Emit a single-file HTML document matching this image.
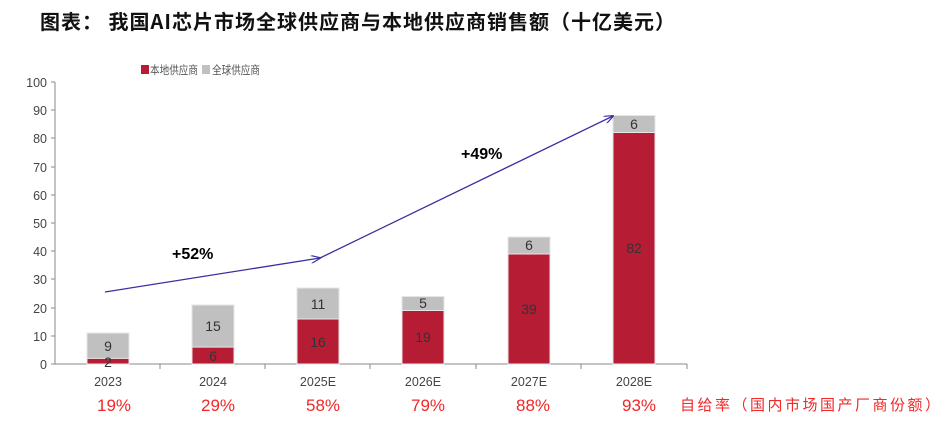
<!DOCTYPE html>
<html><head><meta charset="utf-8"><style>
body{margin:0;background:#fff;}
svg{display:block;font-family:"Liberation Sans","Noto Sans CJK SC",sans-serif;}
</style></head><body>
<svg width="952" height="422" viewBox="0 0 952 422" xmlns="http://www.w3.org/2000/svg">
<defs><marker id="ar" markerWidth="10" markerHeight="8" refX="9" refY="4" orient="auto" markerUnits="userSpaceOnUse"><path d="M0,0 L10,4 L0,8" fill="none" stroke="#3a2fa0" stroke-width="1.2"/></marker></defs>
<text x="40" y="29" font-size="20" font-weight="bold" fill="#111" font-family="'Noto Sans CJK SC',sans-serif" letter-spacing="1">图表： 我国AI芯片市场全球供应商与本地供应商销售额（十亿美元）</text>
<rect x="141" y="65" width="8" height="9" fill="#b71c35"/>
<text x="150" y="74" font-size="11.5" fill="#555" textLength="48" lengthAdjust="spacingAndGlyphs">本地供应商</text>
<rect x="202" y="65" width="8" height="9" fill="#c0c0c0"/>
<text x="212" y="74" font-size="11.5" fill="#555" textLength="48" lengthAdjust="spacingAndGlyphs">全球供应商</text>
<g stroke="#888" stroke-width="1">
<line x1="55" y1="82" x2="55" y2="364"/>
<line x1="51" y1="364" x2="687" y2="364"/>
<line x1="160" y1="364" x2="160" y2="369"/><line x1="265" y1="364" x2="265" y2="369"/><line x1="370" y1="364" x2="370" y2="369"/><line x1="476" y1="364" x2="476" y2="369"/><line x1="581" y1="364" x2="581" y2="369"/><line x1="687" y1="364" x2="687" y2="369"/>
<line x1="51" y1="82" x2="55" y2="82"/><line x1="51" y1="110" x2="55" y2="110"/><line x1="51" y1="138" x2="55" y2="138"/><line x1="51" y1="167" x2="55" y2="167"/><line x1="51" y1="195" x2="55" y2="195"/><line x1="51" y1="223" x2="55" y2="223"/><line x1="51" y1="251" x2="55" y2="251"/><line x1="51" y1="279" x2="55" y2="279"/><line x1="51" y1="308" x2="55" y2="308"/><line x1="51" y1="336" x2="55" y2="336"/>
</g>
<g font-size="12.5" fill="#444" text-anchor="end">
<text x="47" y="87">100</text><text x="47" y="115">90</text><text x="47" y="143">80</text><text x="47" y="172">70</text><text x="47" y="200">60</text><text x="47" y="228">50</text><text x="47" y="256">40</text><text x="47" y="284">30</text><text x="47" y="313">20</text><text x="47" y="341">10</text><text x="47" y="369">0</text>
</g>
<g stroke="#e6e6e6" stroke-width="1">
<rect x="87" y="333" width="42" height="25.4" fill="#c0c0c0"/><rect x="87" y="358.4" width="42" height="5.6" fill="#b71c35"/>
<rect x="192" y="305" width="42" height="42.3" fill="#c0c0c0"/><rect x="192" y="347.1" width="42" height="16.9" fill="#b71c35"/>
<rect x="297" y="288" width="42" height="31" fill="#c0c0c0"/><rect x="297" y="319" width="42" height="45" fill="#b71c35"/>
<rect x="402" y="296.5" width="42" height="14" fill="#c0c0c0"/><rect x="402" y="310.5" width="42" height="53.5" fill="#b71c35"/>
<rect x="508" y="237" width="42" height="17" fill="#c0c0c0"/><rect x="508" y="254" width="42" height="110" fill="#b71c35"/>
<rect x="613" y="115.5" width="42" height="17" fill="#c0c0c0"/><rect x="613" y="132.5" width="42" height="231.5" fill="#b71c35"/>
</g>
<g font-size="14" fill="#333" text-anchor="middle">
<text x="108" y="351">9</text><text x="108" y="367">2</text>
<text x="213" y="331">15</text><text x="213" y="361">6</text>
<text x="318" y="309">11</text><text x="318" y="347">16</text>
<text x="423" y="308">5</text><text x="423" y="342">19</text>
<text x="529" y="250">6</text><text x="529" y="314">39</text>
<text x="634" y="129">6</text><text x="634" y="253">82</text>
</g>
<g font-size="12.5" fill="#444" text-anchor="middle">
<text x="108" y="386">2023</text><text x="213" y="386">2024</text><text x="318" y="386">2025E</text><text x="423" y="386">2026E</text><text x="529" y="386">2027E</text><text x="634" y="386">2028E</text>
</g>
<g font-size="17" fill="#f02828" text-anchor="middle">
<text x="114" y="411">19%</text><text x="218" y="411">29%</text><text x="323" y="411">58%</text><text x="428" y="411">79%</text><text x="533" y="411">88%</text><text x="639" y="411">93%</text>
</g>
<text x="680" y="410" font-size="15" fill="#f02828" font-family="'Noto Sans CJK SC',sans-serif" textLength="260" lengthAdjust="spacing">自给率（国内市场国产厂商份额）</text>
<line x1="105" y1="292" x2="320" y2="258" stroke="#3a2fa0" stroke-width="1.3" marker-end="url(#ar)"/>
<line x1="320" y1="258" x2="613" y2="116" stroke="#3a2fa0" stroke-width="1.3" marker-end="url(#ar)"/>
<text x="172" y="259" font-size="16" font-weight="bold" fill="#000">+52%</text>
<text x="461" y="159" font-size="16" font-weight="bold" fill="#000">+49%</text>
</svg>
</body></html>
